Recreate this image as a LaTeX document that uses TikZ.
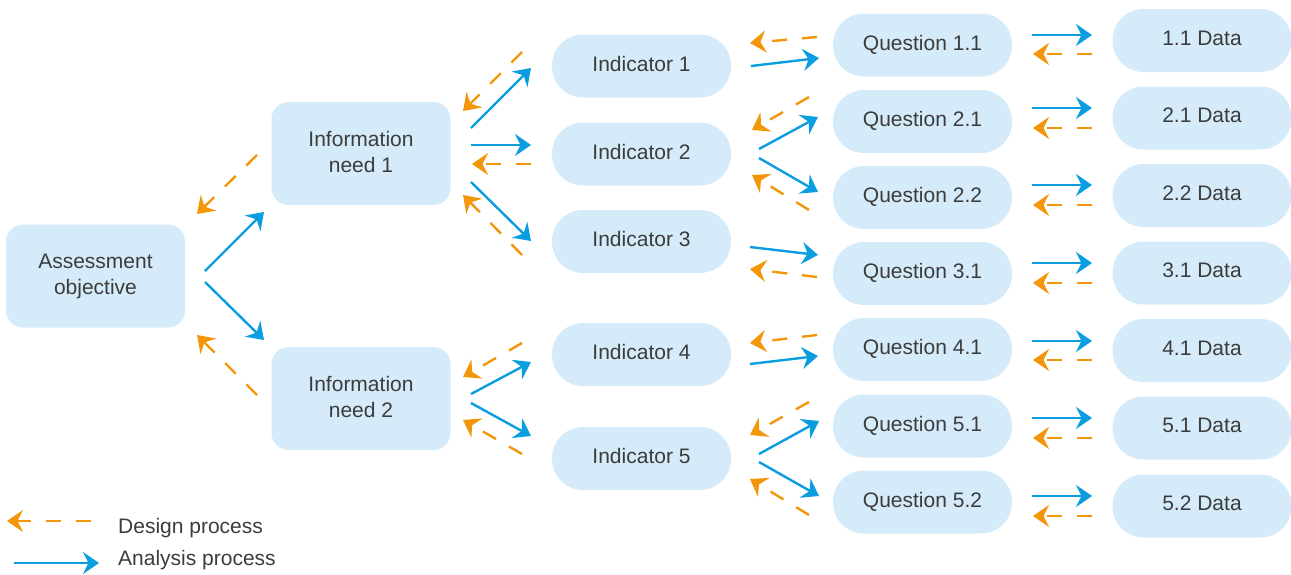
\documentclass[tikz,border=0pt]{standalone}
\usepackage{fontspec}
\setmainfont{Liberation Sans}
\usetikzlibrary{arrows.meta}
\definecolor{boxfill}{RGB}{213,235,250}
\definecolor{txt}{RGB}{60,60,60}
\definecolor{ablue}{RGB}{10,158,224}
\definecolor{dorange}{RGB}{243,150,10}
\newcommand{\fsz}{\fontsize{21}{26.5}\selectfont}
\tikzset{
  rbox/.style={fill=boxfill, draw=none, rounded corners=17pt, minimum width=179pt, minimum height=103pt, align=center, text=txt, font=\fsz, inner sep=0pt, text depth=3pt},
  pill/.style={fill=boxfill, draw=none, rounded corners=31pt, minimum width=179pt, minimum height=63pt, text=txt, font=\fsz, inner sep=0pt, text depth=5pt},
  tipx/.style={-{Stealth[length=16pt,width=22pt,inset=5.5pt]}},
  ana/.style={draw=ablue, line width=2.4pt, tipx},
  des/.style={draw=dorange, line width=2.4pt, dash pattern=on 15pt off 15pt, tipx},
  legtext/.style={anchor=west, text=txt, font=\fsz, inner sep=0pt}
}
\begin{document}
\begin{tikzpicture}[x=1pt,y=-1pt]
\useasboundingbox (0,0) rectangle (1291,574);
% nodes
\node[rbox] (ao) at (95.5,276) {Assessment\\objective};
\node[rbox] (in1) at (361,153.5) {Information\\need 1};
\node[rbox] (in2) at (361,398.5) {Information\\need 2};
\node[pill] (i1) at (641.5,66) {Indicator 1};
\node[pill] (i2) at (641.5,154) {Indicator 2};
\node[pill] (i3) at (641.5,241.5) {Indicator 3};
\node[pill] (i4) at (641.5,354.5) {Indicator 4};
\node[pill] (i5) at (641.5,458.5) {Indicator 5};
\node[pill] (q11) at (922.5,45) {Question 1.1};
\node[pill] (q21) at (922.5,121.5) {Question 2.1};
\node[pill] (q22) at (922.5,197.5) {Question 2.2};
\node[pill] (q31) at (922.5,273.5) {Question 3.1};
\node[pill] (q41) at (922.5,349.5) {Question 4.1};
\node[pill] (q51) at (922.5,426) {Question 5.1};
\node[pill] (q52) at (922.5,502) {Question 5.2};
\node[pill] (d11) at (1202,40.5) {1.1 Data};
\node[pill] (d21) at (1202,118) {2.1 Data};
\node[pill] (d22) at (1202,195.5) {2.2 Data};
\node[pill] (d31) at (1202,273) {3.1 Data};
\node[pill] (d41) at (1202,350.5) {4.1 Data};
\node[pill] (d51) at (1202,428) {5.1 Data};
\node[pill] (d52) at (1202,506) {5.2 Data};
% AO <-> information needs
\coordinate (a1s) at (205,271); \coordinate (a1e) at (264,212);
\coordinate (o1s) at (257,155); \coordinate (o1e) at (197,214);
\coordinate (a2s) at (205,282); \coordinate (a2e) at (264,340);
\coordinate (o2s) at (257,395); \coordinate (o2e) at (197,335);
\draw[ana] (a1s) -- (a1e); \draw[des] (o1s) -- (o1e);
\draw[ana] (a2s) -- (a2e); \draw[des] (o2s) -- (o2e);
% info 1 -> indicators
\coordinate (b1s) at (471,128); \coordinate (b1e) at (531,68);
\coordinate (p1s) at (522,52); \coordinate (p1e) at (463,111);
\coordinate (b2s) at (471,145); \coordinate (b2e) at (531,145);
\coordinate (p2s) at (531,164); \coordinate (p2e) at (472,164);
\coordinate (b3s) at (471,182); \coordinate (b3e) at (531,241);
\coordinate (p3s) at (522,255); \coordinate (p3e) at (463,195);
\draw[ana] (b1s) -- (b1e); \draw[des] (p1s) -- (p1e);
\draw[ana] (b2s) -- (b2e); \draw[des] (p2s) -- (p2e);
\draw[ana] (b3s) -- (b3e); \draw[des] (p3s) -- (p3e);
% info 2 -> indicators
\coordinate (b4s) at (471,394); \coordinate (b4e) at (531,362);
\coordinate (p4s) at (522,343); \coordinate (p4e) at (463,377);
\coordinate (b5s) at (471,403); \coordinate (b5e) at (531,436);
\coordinate (p5s) at (522,454); \coordinate (p5e) at (463,420);
\draw[ana] (b4s) -- (b4e); \draw[des] (p4s) -- (p4e);
\draw[ana] (b5s) -- (b5e); \draw[des] (p5s) -- (p5e);
% indicators -> questions
\coordinate (c1s) at (751,66); \coordinate (c1e) at (819,58);
\coordinate (r1s) at (817,37); \coordinate (r1e) at (750,43);
\coordinate (c2s) at (759,149); \coordinate (c2e) at (818,117);
\coordinate (r2s) at (809,97); \coordinate (r2e) at (752,130);
\coordinate (c3s) at (759,158); \coordinate (c3e) at (818,192);
\coordinate (r3s) at (809,210); \coordinate (r3e) at (752,175);
\coordinate (c4s) at (750,247); \coordinate (c4e) at (818,255);
\coordinate (r4s) at (817,277); \coordinate (r4e) at (750,269);
\coordinate (c5s) at (750,364); \coordinate (c5e) at (818,356);
\coordinate (r5s) at (817,335); \coordinate (r5e) at (750,343);
\coordinate (c6s) at (759,454); \coordinate (c6e) at (819,421);
\coordinate (r6s) at (809,402); \coordinate (r6e) at (750,435);
\coordinate (c7s) at (759,462); \coordinate (c7e) at (819,496);
\coordinate (r7s) at (809,515); \coordinate (r7e) at (750,479);
\foreach \k in {1,...,7}{
  \draw[ana] (c\k s) -- (c\k e);
  \draw[des] (r\k s) -- (r\k e);
}
% questions <-> data
\foreach \k/\yb/\yo in {1/35/54, 2/108/128, 3/185/205, 4/263/283, 5/341/360, 6/418/438, 7/496/516}{
  \coordinate (e\k s) at (1032,\yb); \coordinate (e\k e) at (1092,\yb);
  \coordinate (f\k s) at (1092,\yo); \coordinate (f\k e) at (1033,\yo);
  \draw[ana] (e\k s) -- (e\k e);
  \draw[des] (f\k s) -- (f\k e);
}
% legend
\coordinate (lgos) at (91,521); \coordinate (lgoe) at (7,521);
\coordinate (lgbs) at (14,563); \coordinate (lgbe) at (99,563);
\draw[des] (lgos) -- (lgoe);
\draw[ana] (lgbs) -- (lgbe);
\node[legtext] (lgd) at (118,528) {Design process};
\node[legtext] (lga) at (118,560) {Analysis process};
\end{tikzpicture}
\end{document}
